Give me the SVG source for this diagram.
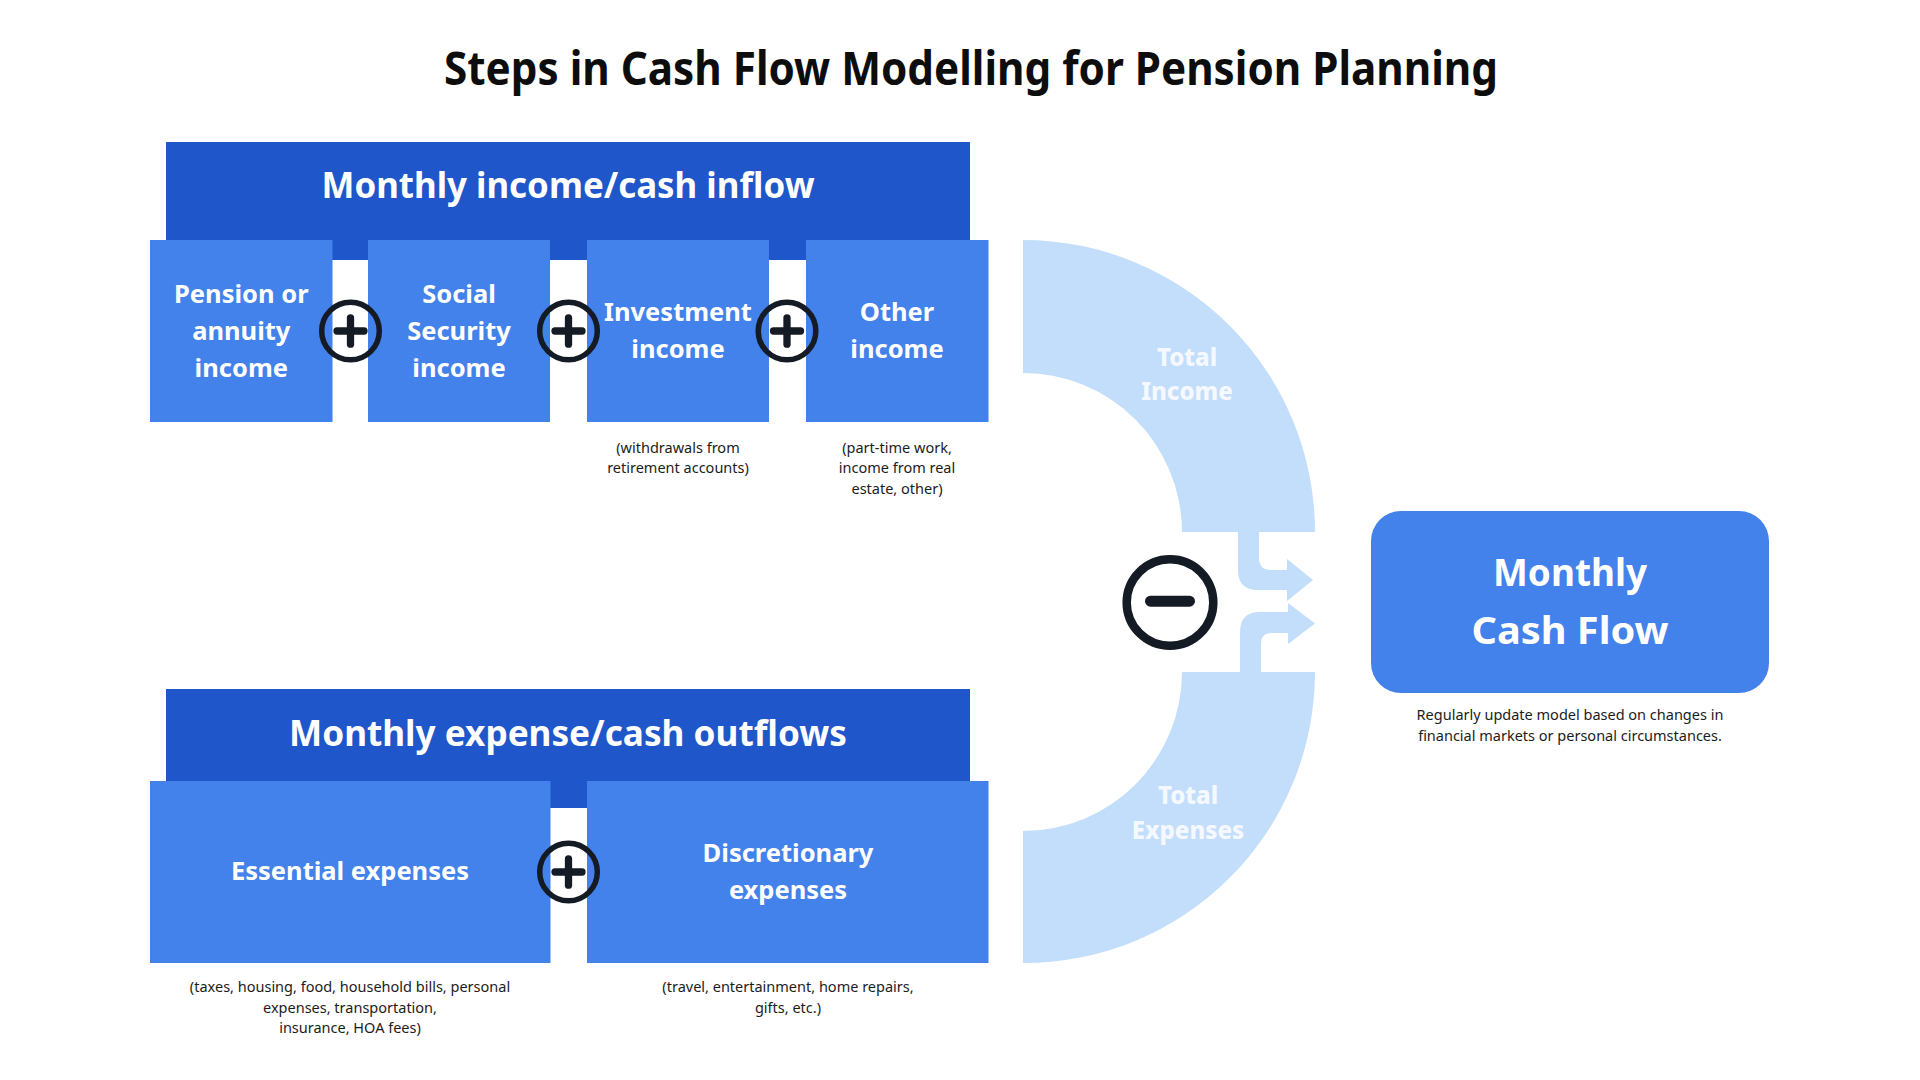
<svg xmlns="http://www.w3.org/2000/svg" width="1920" height="1080" viewBox="0 0 1920 1080">
  <style>
    .title { font-family: "Noto Sans", "Liberation Sans", sans-serif; font-weight: 700; font-size: 46px; fill: #0d0d0d; text-anchor: middle; }
    .hdr { fill: #1f56c9; }
    .box { fill: #4381eb; }
    .hdrtxt { font-family: "Noto Sans", "Liberation Sans", sans-serif; font-weight: 700; font-size: 35px; fill: #ffffff; text-anchor: middle; }
    .boxtxt { font-family: "Noto Sans", "Liberation Sans", sans-serif; font-weight: 700; font-size: 25.5px; fill: #ffffff; text-anchor: middle; }
    .sub { font-family: "Noto Sans", "Liberation Sans", sans-serif; font-weight: 400; font-size: 14.5px; fill: #1c1c1c; text-anchor: middle; }
    .band { fill: #c3defb; }
    .bandtxt { font-family: "Noto Sans", "Liberation Sans", sans-serif; font-weight: 800; font-size: 24px; fill: #f5f9ff; text-anchor: middle; }
    .bigtxt { font-family: "Noto Sans", "Liberation Sans", sans-serif; font-weight: 700; font-size: 38px; fill: #ffffff; text-anchor: middle; }
    .op { fill: none; stroke: #141b24; stroke-linecap: round; }
  </style>
  <defs>
    <g id="plus">
      <circle cx="0" cy="0" r="28.8" class="op" stroke-width="5.5"/>
      <line x1="-13.5" y1="0" x2="13.5" y2="0" class="op" stroke-width="7.3"/>
      <line x1="0" y1="-13.2" x2="0" y2="13.2" class="op" stroke-width="7.3"/>
    </g>
  </defs>
  <rect width="1920" height="1080" fill="#ffffff"/>

  <text class="title" x="971" y="85" textLength="1054" lengthAdjust="spacingAndGlyphs">Steps in Cash Flow Modelling for Pension Planning</text>

  <!-- Income section -->
  <g id="income-header">
    <rect class="hdr" x="166" y="142" width="804" height="118"/>
    <text class="hdrtxt" x="568" y="198.3" textLength="493" lengthAdjust="spacingAndGlyphs">Monthly income/cash inflow</text>
  </g>
  <g id="pension-income">
    <rect class="box" x="150" y="240" width="182.5" height="182"/>
    <text class="boxtxt" x="241.3" y="302.7">Pension or</text>
    <text class="boxtxt" x="241.3" y="339.7">annuity</text>
    <text class="boxtxt" x="241.3" y="376.7">income</text>
  </g>
  <g id="social-security-income">
    <rect class="box" x="368" y="240" width="182" height="182"/>
    <text class="boxtxt" x="459" y="302.7">Social</text>
    <text class="boxtxt" x="459" y="339.7">Security</text>
    <text class="boxtxt" x="459" y="376.7">income</text>
  </g>
  <g id="investment-income">
    <rect class="box" x="587" y="240" width="182" height="182"/>
    <text class="boxtxt" x="678" y="320.7">Investment</text>
    <text class="boxtxt" x="678" y="357.7">income</text>
    <text class="sub" x="678" y="452.7">(withdrawals from</text>
    <text class="sub" x="678" y="473.3">retirement accounts)</text>
  </g>
  <g id="other-income">
    <rect class="box" x="806" y="240" width="182.5" height="182"/>
    <text class="boxtxt" x="897" y="320.7">Other</text>
    <text class="boxtxt" x="897" y="357.7">income</text>
    <text class="sub" x="897" y="452.7">(part-time work,</text>
    <text class="sub" x="897" y="473.3">income from real</text>
    <text class="sub" x="897" y="494">estate, other)</text>
  </g>

  <!-- Expense section -->
  <g id="expense-header">
    <rect class="hdr" x="166" y="689" width="804" height="119"/>
    <text class="hdrtxt" x="568" y="745.7" textLength="558" lengthAdjust="spacingAndGlyphs">Monthly expense/cash outflows</text>
  </g>
  <g id="essential-expenses">
    <rect class="box" x="150" y="781" width="400.5" height="182"/>
    <text class="boxtxt" x="350" y="880">Essential expenses</text>
    <text class="sub" x="350" y="991.7">(taxes, housing, food, household bills, personal</text>
    <text class="sub" x="350" y="1012.7">expenses, transportation,</text>
    <text class="sub" x="350" y="1033.3">insurance, HOA fees)</text>
  </g>
  <g id="discretionary-expenses">
    <rect class="box" x="587" y="781" width="401.5" height="182"/>
    <text class="boxtxt" x="788" y="861.7">Discretionary</text>
    <text class="boxtxt" x="788" y="898.5">expenses</text>
    <text class="sub" x="788" y="991.7">(travel, entertainment, home repairs,</text>
    <text class="sub" x="788" y="1012.7">gifts, etc.)</text>
  </g>

  <!-- Result -->
  <g id="monthly-cash-flow">
    <rect class="box" x="1371" y="511" width="398" height="182" rx="30" ry="30"/>
    <text class="bigtxt" x="1570" y="586" textLength="154" lengthAdjust="spacingAndGlyphs">Monthly</text>
    <text class="bigtxt" x="1570" y="644" textLength="197" lengthAdjust="spacingAndGlyphs">Cash Flow</text>
    <text class="sub" x="1570" y="720">Regularly update model based on changes in</text>
    <text class="sub" x="1570" y="740.7">financial markets or personal circumstances.</text>
  </g>

  <!-- Connectors: flow bands and arrows -->
  <g id="connectors">
    <path class="band" d="M1023,240 A292,292 0 0 1 1315,532 L1182,532 A159,159 0 0 0 1023,373 Z"/>
    <path class="band" d="M1023,831 A159,159 0 0 0 1182,672 L1315,672 A291,291 0 0 1 1023,963 Z"/>
    <path class="band" d="M1238,530 L1259,530 L1259,558 Q1259,570 1271,570 L1287,570 L1287,559 L1313,580 L1287,601 L1287,590 L1258,590 Q1238,590 1238,570 Z"/>
    <path class="band" d="M1240,674 L1240,632 Q1240,612 1260,612 L1288,612 L1288,603 L1315,623.5 L1288,644 L1288,633 L1272,633 Q1261,633 1261,644 L1261,674 Z"/>
    <text class="bandtxt" x="1187" y="365.7">Total</text>
    <text class="bandtxt" x="1187" y="400">Income</text>
    <text class="bandtxt" x="1188" y="804">Total</text>
    <text class="bandtxt" x="1188" y="838.5">Expenses</text>
  </g>

  <!-- Operators -->
  <g id="operators">
    <use href="#plus" x="350.5" y="331"/>
    <use href="#plus" x="568.5" y="331"/>
    <use href="#plus" x="787" y="331"/>
    <use href="#plus" x="568.5" y="872"/>
    <g id="minus">
      <circle cx="1170" cy="602.5" r="43.3" class="op" stroke-width="8.5"/>
      <line x1="1150.5" y1="601.2" x2="1189.5" y2="601.2" class="op" stroke-width="11"/>
    </g>
  </g>
</svg>
